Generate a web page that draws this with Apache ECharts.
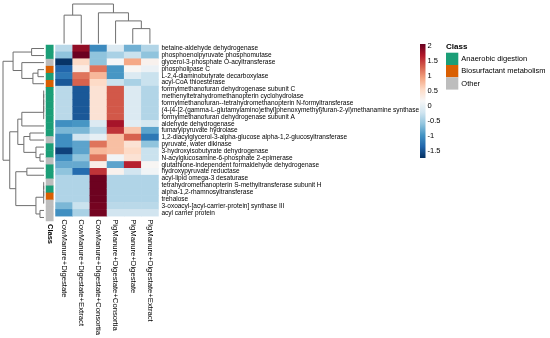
<!DOCTYPE html>
<html><head><meta charset="utf-8">
<script src="https://cdn.jsdelivr.net/npm/echarts@6/dist/echarts.min.js"></script>
<style>html,body{margin:0;padding:0;background:#fff}#c{width:550px;height:338px}</style>
</head><body><div id="c"></div>
<script>
const colNames = ['CowManure+Digestate','CowManure+Digestate+Extract','CowManure+Digestate+Consortia','PigManure+Digestate+Consortia','PigManure+Digestate','PigManure+Digestate+Extract'];
const rowNames = ['betaine-aldehyde dehydrogenase','phosphoenolpyruvate phosphomutase','glycerol-3-phosphate O-acyltransferase','phospholipase C','L-2,4-diaminobutyrate decarboxylase','acyl-CoA thioesterase','formylmethanofuran dehydrogenase subunit C','methenyltetrahydromethanopterin cyclohydrolase','formylmethanofuran--tetrahydromethanopterin N-formyltransferase','(4-{4-[2-(gamma-L-glutamylamino)ethyl]phenoxymethyl}furan-2-yl)methanamine synthase','formylmethanofuran dehydrogenase subunit A','aldehyde dehydrogenase','fumarylpyruvate hydrolase','1,2-diacylglycerol-3-alpha-glucose alpha-1,2-glucosyltransferase','pyruvate, water dikinase','3-hydroxyisobutyrate dehydrogenase','N-acylglucosamine-6-phosphate 2-epimerase','glutathione-independent formaldehyde dehydrogenase','hydroxypyruvate reductase','acyl-lipid omega-3 desaturase','tetrahydromethanopterin S-methyltransferase subunit H','alpha-1,2-rhamnosyltransferase','trehalose','3-oxoacyl-[acyl-carrier-protein] synthase III','acyl carrier protein'];
const classNames = ['Anaerobic digestion','Biosurfactant metabolism','Other'];
const rowClass = [0,0,2,1,0,1,0,0,0,0,0,0,0,2,0,0,2,0,0,2,0,1,2,2,2];
// z-scores per column (rows in display order)
const cowDigestate = [-0.35,-0.6,-1.7,-1.35,-1.2,-1.45,-0.35,-0.35,-0.35,-0.35,-0.35,-1.0,-0.7,-1.0,-1.0,-1.6,-1.0,-0.8,-0.6,-0.41,-0.41,-0.41,-0.41,-0.7,-1.0];
const cowExtract = [1.85,2.05,0.55,0.3,1.2,1.3,-1.45,-1.45,-1.45,-1.45,-1.45,-0.95,-0.7,-0.2,-0.85,-0.85,-0.6,-0.8,-1.3,-0.41,-0.41,-0.41,-0.41,-0.25,-0.45];
const cowConsortia = [-1.05,-0.6,-0.6,1.2,0.8,0.55,0.45,0.45,0.45,0.45,0.45,-0.1,-0.35,0.0,1.2,0.8,1.2,0.3,1.55,2.04,2.04,2.04,2.04,2.0,2.0];
const pigConsortia = [-0.1,-0.45,0.15,-0.95,-0.95,-0.25,1.35,1.35,1.35,1.35,1.35,1.75,1.55,0.75,0.75,0.75,0.1,-0.85,0.25,-0.41,-0.41,-0.41,-0.41,-0.35,-0.2];
const pigDigestate = [-0.75,-0.25,0.9,0.2,-0.1,-0.45,-0.1,-0.1,-0.1,-0.1,-0.1,-0.05,0.7,1.3,0.45,0.55,0.45,1.65,-0.2,-0.41,-0.41,-0.41,-0.41,-0.35,-0.2];
const pigExtract = [-0.4,-0.6,0.25,0.05,-0.25,-0.25,-0.4,-0.4,-0.4,-0.4,-0.4,-0.15,-0.85,-1.2,-0.6,-0.25,-0.25,0.2,0.1,-0.41,-0.41,-0.41,-0.41,-0.35,-0.2];
const columns = [cowDigestate, cowExtract, cowConsortia, pigConsortia, pigDigestate, pigExtract];
const scaleMin = -1.73, scaleMax = 2.07;
const colorTicks = [2,1.5,1,0.5,0,-0.5,-1,-1.5];
// dendrograms: [a, b, height]; negative = leaf (1-based), positive = earlier merge (1-based)
const colMerges = [[-1,-2,28],[-5,-6,14.7],[-4,2,22.3],[-3,3,30.3],[1,4,39]];
const rowMerges = [
 [-7,-8,0.3],[1,-9,0.3],[2,-10,0.3],[3,-11,0.3],
 [-20,-21,0.3],[5,-22,0.3],[6,-23,0.3],
 [-24,-25,4],[-16,-17,4],[-4,-5,6],
 [7,8,8],[-15,9,8],[10,-6,11],[-1,-2,12.3],
 [-13,-14,14],[-18,-19,17],[15,12,20],[-3,13,22],[4,-12,22],
 [19,17,26],[16,11,28],[14,18,30.7],[20,21,34],[22,23,40.7]
];
const rdbu = ['#053061','#2166ac','#4393c3','#92c5de','#d1e5f0','#f7f7f7','#fddbc7','#f4a582','#d6604d','#b2182b','#67001f'];
const classColors = ['#1b9e77','#d95f02','#bdbdbd'];

function segments(merges){
  const pos=[], ht=[];
  const get = id => id<0 ? [(-id)-0.5, 0] : [pos[id-1], ht[id-1]];
  const segs=[];
  merges.forEach(m=>{
    const a=get(m[0]), b=get(m[1]);
    segs.push([a[0],a[1],b[0],b[1],m[2]]);
    pos.push((a[0]+b[0])/2); ht.push(m[2]);
  });
  return segs;
}
const colSegs = segments(colMerges);
const rowSegs = segments(rowMerges);
const colMaxH = Math.max(...colMerges.map(m=>m[2]));
const rowMaxH = Math.max(...rowMerges.map(m=>m[2]));

const heatData=[];
columns.forEach((col,c)=>col.forEach((v,r)=>heatData.push([c,r,v])));
const classData = rowClass.map((k,r)=>[0,r,k]);

const FONT = 'Liberation Sans, Arial, sans-serif';
const LINE = '#6f6f6f';
const hidden = {show:false};

const chart = echarts.init(document.getElementById('c'), null, {renderer:'canvas'});
chart.setOption({
  animation:false,
  textStyle:{fontFamily:FONT},
  title:{text:'Class', left:446, top:43, padding:0, textStyle:{fontSize:8, fontWeight:'bold', color:'#000', fontFamily:FONT}},
  grid:[
    {left:55.5, top:45, width:103, height:176},
    {left:46, top:45, width:7.3, height:176},
    {left:55.5, top:4, width:103, height:39.5},
    {left:3, top:45, width:41, height:176},
    {left:420, top:44, width:5.5, height:114}
  ],
  xAxis:[
    {type:'category', gridIndex:0, data:colNames, position:'bottom', axisLine:hidden, axisTick:hidden,
     axisLabel:{rotate:-90, fontSize:7.7, color:'#000', margin:3, interval:0, fontFamily:FONT}},
    {type:'category', gridIndex:1, data:['Class'], axisLine:hidden, axisTick:hidden,
     axisLabel:{rotate:-90, fontSize:7.5, fontWeight:'bold', color:'#000', margin:3, fontFamily:FONT}},
    {type:'value', gridIndex:2, min:0, max:colNames.length, show:false},
    {type:'value', gridIndex:3, min:0, max:rowMaxH, inverse:true, show:false},
    {type:'value', gridIndex:4, min:0, max:1, show:false}
  ],
  yAxis:[
    {type:'category', gridIndex:0, data:rowNames, inverse:true, position:'right', axisLine:hidden, axisTick:hidden,
     axisLabel:{fontSize:6.5, color:'#000', margin:3, interval:0, fontFamily:FONT}},
    {type:'category', gridIndex:1, data:rowNames, inverse:true, show:false},
    {type:'value', gridIndex:2, min:0, max:colMaxH, show:false},
    {type:'value', gridIndex:3, min:0, max:rowNames.length, inverse:true, show:false},
    {type:'value', gridIndex:4, min:scaleMin, max:scaleMax, position:'right', splitNumber:8,
     axisLine:hidden, axisTick:hidden, splitLine:hidden,
     axisLabel:{fontSize:7.5, color:'#000', margin:2, showMinLabel:false, showMaxLabel:false, fontFamily:FONT,
       formatter:v=>colorTicks.some(t=>Math.abs(t-v)<1e-6)?String(v):''}}
  ],
  visualMap:[
    {type:'continuous', seriesIndex:0, dimension:2, min:scaleMin, max:scaleMax, inRange:{color:rdbu}, show:false},
    {type:'piecewise', seriesIndex:1, dimension:2, left:446, top:52.7, orient:'vertical', inverse:true, align:'left',
     itemWidth:12.3, itemHeight:12.3, itemGap:0, textGap:3, itemSymbol:'rect', selectedMode:false, padding:0,
     textStyle:{fontSize:7.5, color:'#000', fontFamily:FONT},
     pieces:classNames.map((n,i)=>({value:i, label:n, color:classColors[i]}))}
  ],
  series:[
    {type:'heatmap', xAxisIndex:0, yAxisIndex:0, data:heatData, itemStyle:{borderWidth:0}},
    {type:'heatmap', xAxisIndex:1, yAxisIndex:1, data:classData, itemStyle:{borderWidth:0}},
    {type:'custom', xAxisIndex:2, yAxisIndex:2, data:colSegs, silent:true,
     renderItem:(p,api)=>{
       const x1=api.value(0),h1=api.value(1),x2=api.value(2),h2=api.value(3),hm=api.value(4);
       return {type:'polyline', shape:{points:[api.coord([x1,h1]),api.coord([x1,hm]),api.coord([x2,hm]),api.coord([x2,h2])]},
               style:{stroke:LINE, lineWidth:1, fill:null}};
     }},
    {type:'custom', xAxisIndex:3, yAxisIndex:3, data:rowSegs, silent:true,
     renderItem:(p,api)=>{
       const y1=api.value(0),h1=api.value(1),y2=api.value(2),h2=api.value(3),hm=api.value(4);
       return {type:'polyline', shape:{points:[api.coord([h1,y1]),api.coord([hm,y1]),api.coord([hm,y2]),api.coord([h2,y2])]},
               style:{stroke:LINE, lineWidth:1, fill:null}};
     }},
    {type:'custom', xAxisIndex:4, yAxisIndex:4, data:[[0,scaleMin,1,scaleMax]], silent:true,
     renderItem:(p,api)=>{
       const a=api.coord([api.value(0),api.value(3)]), b=api.coord([api.value(2),api.value(1)]);
       const stops = rdbu.slice().reverse().map((c,i)=>({offset:i/(rdbu.length-1), color:c}));
       return {type:'rect', shape:{x:a[0], y:a[1], width:b[0]-a[0], height:b[1]-a[1]},
               style:{fill:new echarts.graphic.LinearGradient(0,0,0,1,stops)}};
     }}
  ]
});
</script></body></html>
